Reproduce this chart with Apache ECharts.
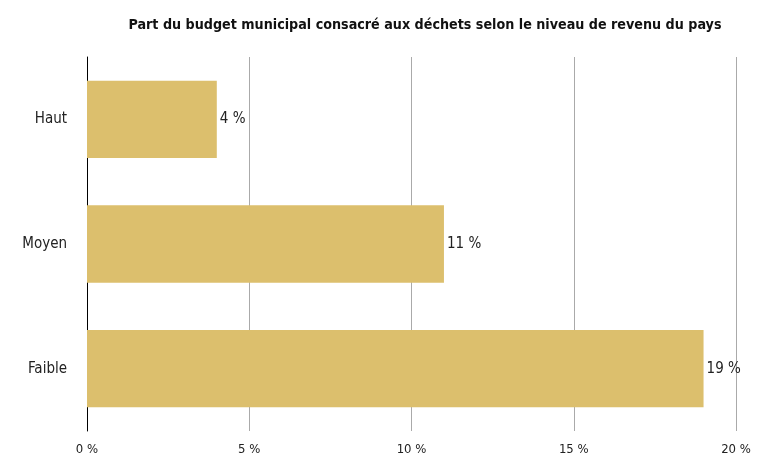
<!DOCTYPE html>
<html><head><meta charset="utf-8">
<script src="https://cdn.jsdelivr.net/npm/echarts@6/dist/echarts.min.js"></script>
<style>html,body{margin:0;padding:0;background:#fff}#c{width:780px;height:475px}</style>
</head><body><div id="c"></div>
<script>
const categories = ['Faible', 'Moyen', 'Haut'];
const values = [19, 11, 4];
const titleText = 'Part du budget municipal consacré aux déchets selon le niveau de revenu du pays';
const FONT = '"Liberation Sans Narrow", "DejaVu Sans Condensed", "Roboto Condensed", sans-serif';

const chart = echarts.init(document.getElementById('c'), null, {renderer: 'canvas'});
chart.setOption({
  animation: false,
  backgroundColor: '#fff',
  title: {
    text: titleText, left: 420, top: 13, textAlign: 'center',
    textStyle: {fontFamily: FONT, fontWeight: 'bold', fontSize: 14.2, color: '#111'}
  },
  grid: {left: 87, right: 44, top: 57, bottom: 44, containLabel: false},
  xAxis: {
    type: 'value', min: 0, max: 20, interval: 5,
    axisLine: {show: false}, axisTick: {show: false},
    axisLabel: {formatter: '{value} %', fontFamily: FONT, fontSize: 13, color: '#222', margin: 12},
    splitLine: {show: true, lineStyle: {color: '#aaaaaa', width: 1}}
  },
  yAxis: {
    type: 'category', data: categories,
    axisLine: {show: true, lineStyle: {color: '#000', width: 1}},
    axisTick: {show: false},
    axisLabel: {fontFamily: FONT, fontSize: 15, color: '#222', margin: 20}
  },
  series: [{
    type: 'bar', data: values, barWidth: '62%',
    itemStyle: {color: '#dcbf6d'},
    label: {show: true, position: 'right', distance: 3, formatter: '{c} %', fontFamily: FONT, fontSize: 15, color: '#222'}
  }]
});
</script></body></html>
